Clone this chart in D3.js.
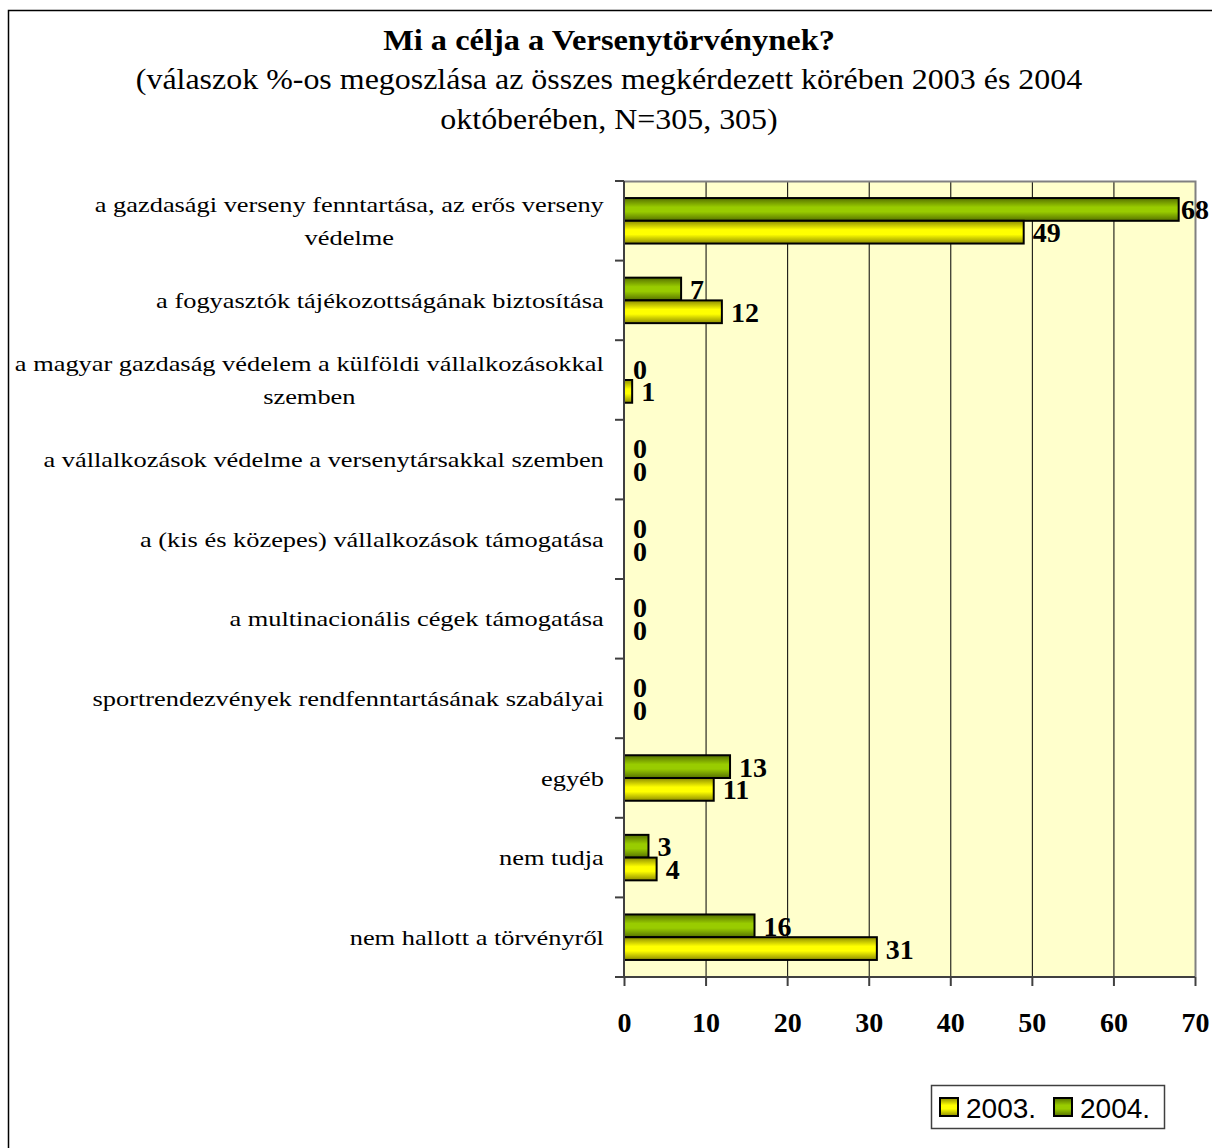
<!DOCTYPE html>
<html>
<head>
<meta charset="utf-8">
<script src="https://cdn.jsdelivr.net/npm/d3@7"></script>
<style>
  body { margin: 0; background: #fff; }
</style>
</head>
<body>
<div id="chart-area"></div>
<script>
// data
const categories = [
  ["a gazdasági verseny fenntartása, az erős verseny", "védelme"],
  ["a fogyasztók tájékozottságának biztosítása"],
  ["a magyar gazdaság védelem a külföldi vállalkozásokkal", "szemben"],
  ["a vállalkozások védelme a versenytársakkal szemben"],
  ["a (kis és közepes) vállalkozások támogatása"],
  ["a multinacionális cégek támogatása"],
  ["sportrendezvények rendfenntartásának szabályai"],
  ["egyéb"],
  ["nem tudja"],
  ["nem hallott a törvényről"]
];
const values2003 = [49, 12, 1, 0, 0, 0, 0, 11, 4, 31];
const values2004 = [68, 7, 0, 0, 0, 0, 0, 13, 3, 16];
const seriesNames = ["2003.", "2004."];
const xTicks = [0, 10, 20, 30, 40, 50, 60, 70];

const titleText = "Mi a célja a Versenytörvénynek?";
const subtitleLines = ["(válaszok %-os megoszlása az összes megkérdezett körében 2003 és 2004", "októberében, N=305, 305)"];

// canvas
const canvas = { width: 1212, height: 1148 };
const plot = { left: 624, right: 1195, top: 181, bottom: 977 };
const serif = "'Liberation Serif', 'Times New Roman', serif";

const svg = d3.select("#chart-area").append("svg")
  .attr("width", canvas.width).attr("height", canvas.height)
  .style("display", "block");

// gradients
const defs = svg.append("defs");
function barGrad(id, dark, bright) {
  const g = defs.append("linearGradient").attr("id", id)
    .attr("x1", 0).attr("y1", 0).attr("x2", 0).attr("y2", 1);
  g.append("stop").attr("offset", "0%").attr("stop-color", dark);
  g.append("stop").attr("offset", "40%").attr("stop-color", bright);
  g.append("stop").attr("offset", "60%").attr("stop-color", bright);
  g.append("stop").attr("offset", "100%").attr("stop-color", dark);
}
barGrad("grad2003", "#8c8c00", "#ffff00");
barGrad("grad2004", "#557000", "#99cc00");

// outer frame
svg.append("rect").attr("x", 8.5).attr("y", 10.5).attr("width", 1300).attr("height", 1300)
  .attr("fill", "none").attr("stroke", "#000").attr("stroke-width", 1.5);

// text is a bit wider in the original, so stretch horizontally
function wideText(parent, x, y, sx) {
  return parent.append("text")
    .attr("transform", `translate(${x},${y}) scale(${sx},1)`)
    .attr("font-family", serif);
}

// titles
wideText(svg, 609, 50, 1.08).attr("text-anchor", "middle")
  .attr("font-weight", "bold").attr("font-size", 30).text(titleText);
subtitleLines.forEach((line, i) => {
  wideText(svg, 609, 89 + i * 40, 1.065).attr("text-anchor", "middle")
    .attr("font-size", 30).text(line);
});

// scales
const x = d3.scaleLinear().domain([0, 70]).range([plot.left, plot.right]);
const y = d3.scaleBand().domain(d3.range(categories.length)).range([plot.top, plot.bottom]);
const ySeries = d3.scaleBand().domain(["2004", "2003"]).range([0, y.bandwidth()]).paddingOuter(0.75);

// plot background
svg.append("rect").attr("x", plot.left).attr("y", plot.top)
  .attr("width", plot.right - plot.left).attr("height", plot.bottom - plot.top)
  .attr("fill", "#ffffcc");

// gridlines
svg.selectAll("line.grid").data(xTicks.slice(1, -1)).enter().append("line").attr("class", "grid")
  .attr("x1", d => x(d) + 0.5).attr("x2", d => x(d) + 0.5)
  .attr("y1", plot.top).attr("y2", plot.bottom)
  .attr("stroke", "#000").attr("stroke-width", 1);

// plot border (top / right)
svg.append("path")
  .attr("d", `M${plot.left},${plot.top + 0.5}H${plot.right + 0.5}V${plot.bottom}`)
  .attr("fill", "none").attr("stroke", "#808080").attr("stroke-width", 2);

// bars
const barData = [];
categories.forEach((c, i) => {
  barData.push({ i: i, s: "2004", v: values2004[i] });
  barData.push({ i: i, s: "2003", v: values2003[i] });
});

svg.selectAll("rect.bar").data(barData.filter(d => d.v > 0)).enter().append("rect").attr("class", "bar")
  .attr("x", x(0)).attr("y", d => y(d.i) + ySeries(d.s))
  .attr("width", d => x(d.v) - x(0)).attr("height", ySeries.bandwidth())
  .attr("fill", d => "url(#grad" + d.s + ")")
  .attr("stroke", "#000").attr("stroke-width", 2);

// value labels
svg.selectAll("text.val").data(barData).enter().append("text").attr("class", "val")
  .attr("x", d => Math.min(x(d.v) + 9, 1181))
  .attr("y", d => y(d.i) + ySeries(d.s) + ySeries.bandwidth() / 2 + 10)
  .attr("font-family", serif)
  .attr("font-weight", "bold").attr("font-size", 28).text(d => d.v);

// left axis
svg.append("line").attr("x1", plot.left).attr("x2", plot.left)
  .attr("y1", plot.top).attr("y2", plot.bottom)
  .attr("stroke", "#404040").attr("stroke-width", 2);
svg.selectAll("line.ytick").data(d3.range(categories.length + 1)).enter().append("line").attr("class", "ytick")
  .attr("x1", plot.left - 9).attr("x2", plot.left)
  .attr("y1", d => plot.top + d * y.step()).attr("y2", d => plot.top + d * y.step())
  .attr("stroke", "#404040").attr("stroke-width", 2);

// category labels (block right-aligned, lines centred)
const catSx = 1.2;
categories.forEach((lines, i) => {
  const cy = y(i) + y.bandwidth() / 2;
  const y0 = cy - (lines.length - 1) * 33 / 2 + 7.5;
  const g = svg.append("g");
  const t = g.append("text").attr("font-family", serif)
    .attr("font-size", 22).attr("text-anchor", "middle");
  lines.forEach((l, k) => t.append("tspan").attr("x", 0).attr("y", k * 33).text(l));
  const w = t.node().getBBox().width * catSx;
  g.attr("transform", `translate(${604 - w / 2},${y0}) scale(${catSx},1)`);
});

// bottom axis
const xAxisCall = d3.axisBottom(x).tickValues(xTicks).tickSize(9).tickPadding(26).tickSizeOuter(0);
const xAxis = svg.append("g").attr("transform", `translate(0,${plot.bottom})`).call(xAxisCall);
xAxis.select(".domain").attr("stroke", "#404040").attr("stroke-width", 2)
  .attr("d", `M${plot.left - 9},0H${plot.right}`);
xAxis.selectAll(".tick line").attr("stroke", "#404040").attr("stroke-width", 2);
xAxis.selectAll(".tick text").attr("font-family", serif)
  .attr("font-weight", "bold").attr("font-size", 28).attr("fill", "#000");

// legend
const legend = svg.append("g").attr("transform", "translate(931,1085)");
legend.append("rect").attr("x", 0.5).attr("y", 0.5).attr("width", 233).attr("height", 43)
  .attr("fill", "#fff").attr("stroke", "#404040").attr("stroke-width", 1.5);
const legendItems = legend.selectAll("g.li").data(seriesNames).enter().append("g").attr("class", "li")
  .attr("transform", (d, i) => `translate(${9 + i * 114},0)`);
legendItems.append("rect").attr("x", 0).attr("y", 13).attr("width", 18).attr("height", 18)
  .attr("fill", (d, i) => i === 0 ? "url(#grad2003)" : "url(#grad2004)")
  .attr("stroke", "#000").attr("stroke-width", 2);
legendItems.append("text").attr("x", 26).attr("y", 33)
  .attr("font-family", "'Liberation Sans', Arial, sans-serif")
  .attr("font-size", 28).text(d => d);
</script>
</body>
</html>
